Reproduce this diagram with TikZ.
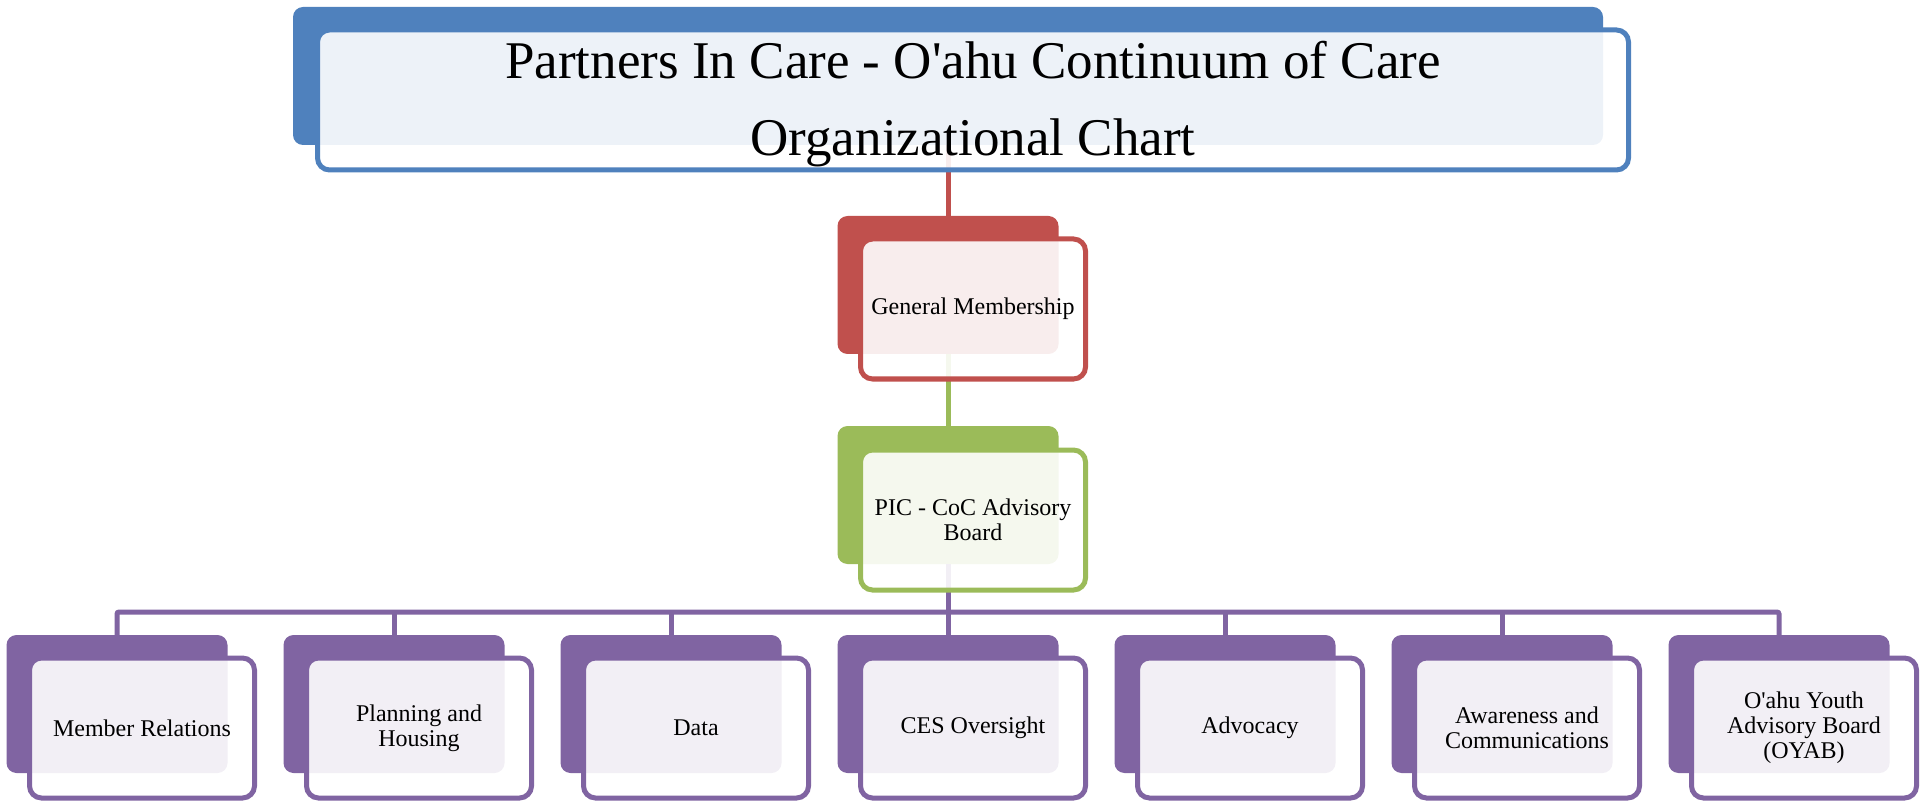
\documentclass[tikz,border=0pt]{standalone}
\usepackage{fontspec}
\setmainfont{Liberation Serif}

\definecolor{accblue}{HTML}{4F81BD}
\definecolor{accred}{HTML}{C0504D}
\definecolor{accgreen}{HTML}{9BBB59}
\definecolor{accpurple}{HTML}{8064A2}

\begin{document}
\begin{tikzpicture}[x=1pt, y=-1pt,
	backbox/.style={rectangle, rounded corners=10pt, fill=#1, minimum width=221pt, minimum height=138pt, inner sep=0pt},
	frontbox/.style={rectangle, rounded corners=12pt, draw=#1, line width=5pt, fill=white, fill opacity=0.9, text opacity=1,
		minimum width=225pt, minimum height=140pt, inner sep=2pt, align=center, font=\fontsize{24}{25}\selectfont},
	link/.style={draw=#1, line width=5pt}]
				\useasboundingbox (0,0) rectangle (1923,802);

				% 後ろの箱
				\node[backbox=accblue, minimum width=1310pt] (tb) at (948, 76) {};
				\node[backbox=accred] (gb) at (948, 285) {};
				\node[backbox=accgreen] (pb) at (948, 495) {};
				\foreach \i in {1,...,7}
					\node[backbox=accpurple] (m\i) at (948+277*\i-1108, 704) {};

				% 線を引く
				\coordinate (bus) at (948, 612);
				\draw[link=accred] (tb.south) -- (gb.north);
				\draw[link=accgreen] (gb.south) -- (pb.north);
				\draw[link=accpurple] (pb.south) -- (bus);
				\draw[link=accpurple, rounded corners=2pt] (m1.north) |- (bus) -| (m7.north);
				\foreach \i in {2,...,6}
					\draw[link=accpurple] (m\i.north |- bus) -- (m\i.north);

				% 前の箱と文字
				\node[frontbox=accblue, minimum width=1311pt] (tf) at (973, 100) {};
				\node[font=\fontsize{53}{77}\selectfont, align=center] (ttl) at (973, 104)
					{Partners In Care - O\textquotesingle ahu Continuum of Care\\Organizational Chart};
				\node[frontbox=accred] (gf) at (973, 309) {General Membership};
				\node[frontbox=accgreen] (pf) at (973, 520) {PIC - CoC Advisory\\Board};
				\foreach \i/\txt in {1/{Member Relations}, 2/{Planning and\\Housing}, 3/{Data}, 4/{CES Oversight},
						5/{Advocacy}, 6/{Awareness and\\Communications}, 7/{O\textquotesingle ahu Youth\\Advisory Board\\(OYAB)}}
					\node[frontbox=accpurple] (mf\i) at (973+277*\i-1108, 728) {\txt};

			\end{tikzpicture}
\end{document}
